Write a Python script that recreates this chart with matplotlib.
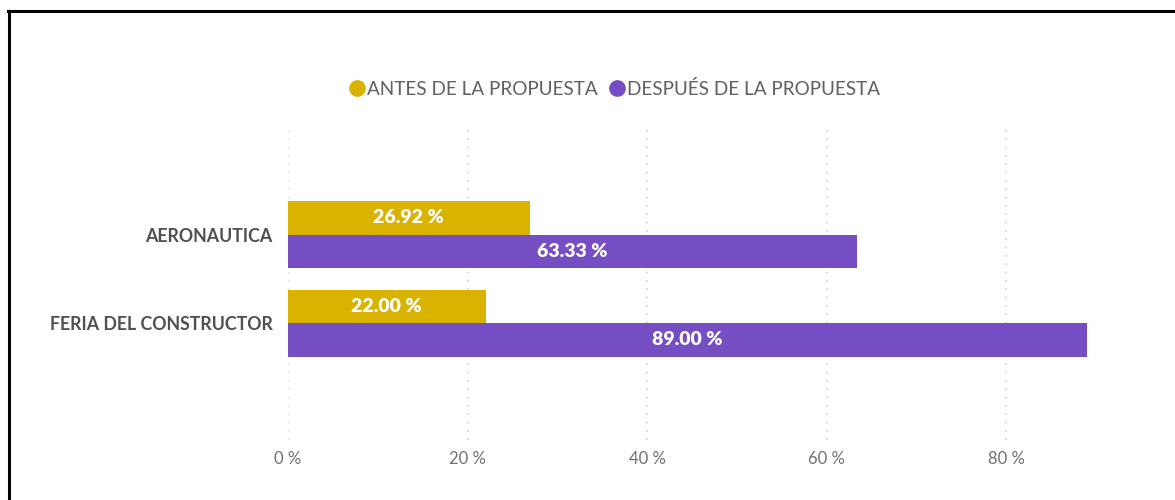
import matplotlib.pyplot as plt
from matplotlib.lines import Line2D

categories = ['AERONAUTICA', 'FERIA DEL CONSTRUCTOR']
antes = [26.92, 22.00]
despues = [63.33, 89.00]
series_names = ['ANTES DE LA PROPUESTA', 'DESPUÉS DE LA PROPUESTA']
ticks = [0, 20, 40, 60, 80]

gold = '#D9B300'
purple = '#744EC2'

plt.rcParams['font.family'] = ['Lato', 'DejaVu Sans']

fig = plt.figure(figsize=(11.75, 5), dpi=100)
ax = fig.add_axes([288 / 1175, 1 - 440 / 500, (1096 - 288) / 1175, 315 / 500])

h = 0.378
pos = list(range(len(categories)))
b1 = ax.barh([p - h / 2 for p in pos], antes, height=h, color=gold)
b2 = ax.barh([p + h / 2 for p in pos], despues, height=h, color=purple)

for bars, vals in ((b1, antes), (b2, despues)):
    for bar, v in zip(bars, vals):
        ax.text(bar.get_width() / 2, bar.get_y() + bar.get_height() / 2,
                f'{v:.2f} %', ha='center', va='center', color='white',
                fontsize=14, fontweight='heavy')

ax.set_xlim(0, 90)
ax.set_ylim(2.32, -1.237)
ax.set_yticks(pos)
ax.set_yticklabels(categories, fontsize=12.8, fontweight='bold', color='#505050')
ax.set_xticks(ticks)
ax.set_xticklabels([f'{t} %' for t in ticks], fontsize=12, color='#707070')
ax.tick_params(axis='both', length=0)
ax.tick_params(axis='y', pad=11)
ax.tick_params(axis='x', pad=8)
ax.xaxis.grid(True, linestyle=(0, (1, 4)), color='#d0d0d0', linewidth=1.2)
ax.set_axisbelow(True)
for s in ax.spines.values():
    s.set_visible(False)

handles = [Line2D([], [], marker='o', linestyle='', color=c, markersize=11)
           for c in (gold, purple)]
fig.legend(handles, series_names, loc='center', bbox_to_anchor=(614 / 1175, 1 - 89 / 500),
           ncol=2, frameon=False, handletextpad=0.05, columnspacing=0.5,
           fontsize=13.6, labelcolor='#606060', handlelength=1.0)

# outer frame (top and left edges)
fig.add_artist(Line2D([8 / 1175, 1], [1 - 11 / 500, 1 - 11 / 500], color='black', linewidth=2.2))
fig.add_artist(Line2D([9 / 1175, 9 / 1175], [0, 1 - 11 / 500], color='black', linewidth=2.2))

plt.savefig('out.png', dpi=100)
